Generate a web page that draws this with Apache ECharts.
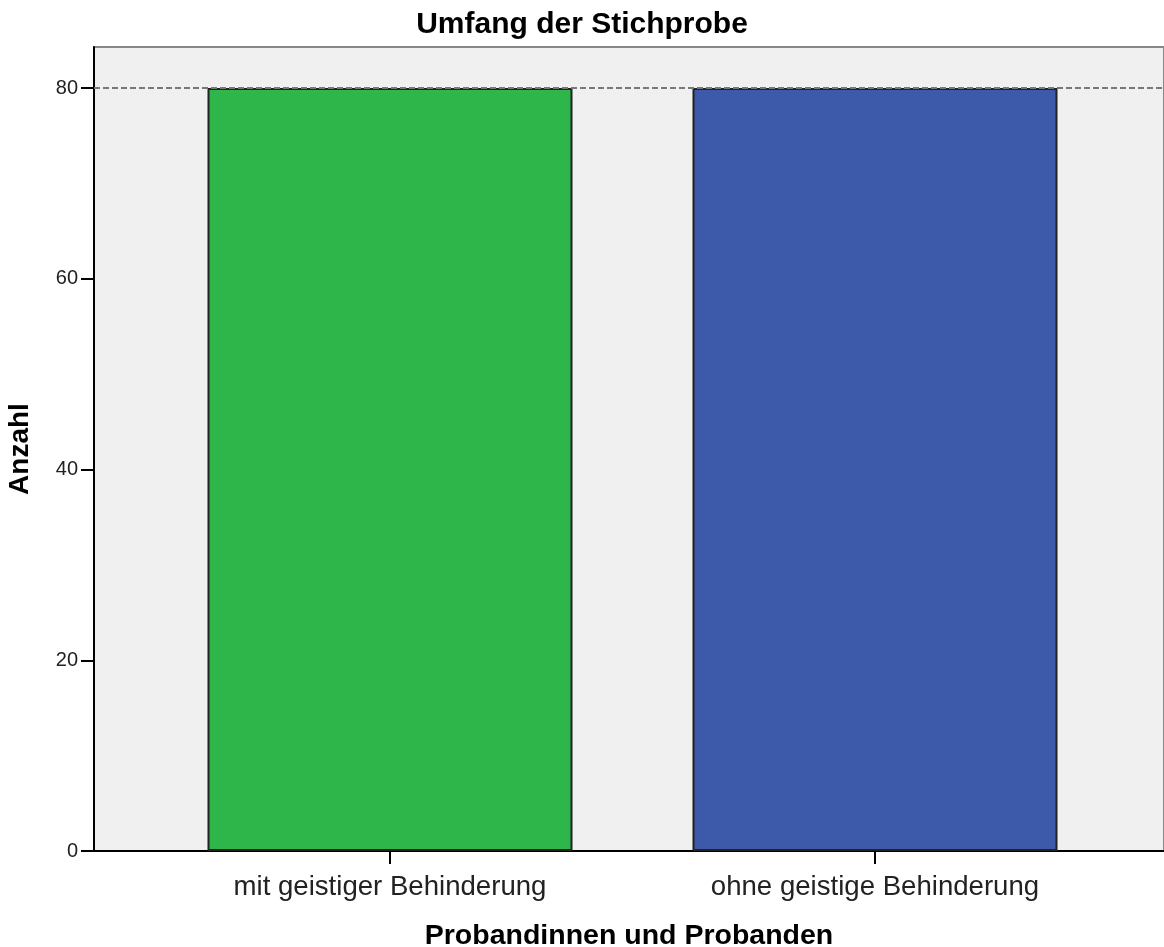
<!DOCTYPE html>
<html>
<head>
<meta charset="utf-8">
<script src="https://cdn.jsdelivr.net/npm/echarts@6/dist/echarts.min.js"></script>
<style>
  html, body { margin: 0; padding: 0; background: #fff; }
  #main { width: 1164px; height: 947px; }
</style>
</head>
<body>
<div id="main"></div>
<script>
// daten
var categories = ['mit geistiger Behinderung', 'ohne geistige Behinderung'];
var counts = [80, 80];
var barColors = ['#2fb64a', '#3c59aa'];
var yTicks = [0, 20, 40, 60, 80];
var refLine = 80;

var myChart = echarts.init(document.getElementById('main'));

var barData = categories.map(function (c, i) {
    return {
        value: [i, counts[i]],
        itemStyle: { color: barColors[i] }
    };
});

var option = {
    backgroundColor: '#fff',
    animation: false,
    title: {
        text: 'Umfang der Stichprobe',
        left: 'center',
        top: 5,
        textStyle: {
            fontFamily: 'Liberation Sans',
            fontWeight: 'bold',
            fontSize: 30,
            color: '#000'
        }
    },
    grid: {
        left: 94,
        right: 0,
        top: 47,
        bottom: 96,
        outerBoundsMode: 'none',
        containLabel: false,
        show: true,
        backgroundColor: '#f0f0f0',
        borderColor: '#888',
        borderWidth: 2
    },
    xAxis: {
        type: 'value',
        min: -0.6103,
        max: 1.5959,
        name: 'Probandinnen und Probanden',
        nameLocation: 'middle',
        nameGap: 71,
        nameTextStyle: {
            fontFamily: 'Liberation Sans',
            fontWeight: 'bold',
            fontSize: 28.5,
            color: '#000',
            verticalAlign: 'top'
        },
        splitLine: { show: false },
        axisLine: { show: true, onZero: false, lineStyle: { color: '#000', width: 2 } },
        axisTick: {
            show: true,
            length: 13,
            customValues: [0, 1],
            lineStyle: { color: '#000', width: 2 }
        },
        axisLabel: {
            customValues: [0, 1],
            margin: 22,
            fontFamily: 'Liberation Sans',
            fontSize: 27.6,
            color: '#222',
            formatter: function (v) {
                return categories[Math.round(v)];
            }
        }
    },
    yAxis: {
        type: 'value',
        min: 0,
        max: 84.3,
        interval: 20,
        name: 'Anzahl',
        nameLocation: 'middle',
        nameGap: 60,
        nameTextStyle: {
            fontFamily: 'Liberation Sans',
            fontWeight: 'bold',
            fontSize: 28,
            color: '#000'
        },
        splitLine: { show: false },
        axisLine: { show: true, onZero: false, lineStyle: { color: '#000', width: 2 } },
        axisTick: {
            show: true,
            length: 13,
            customValues: yTicks,
            lineStyle: { color: '#000', width: 2 }
        },
        axisLabel: {
            customValues: yTicks,
            margin: 16,
            fontFamily: 'Liberation Sans',
            fontSize: 20,
            color: '#222'
        }
    },
    series: [
        {
            type: 'bar',
            barWidth: 365,
            data: barData,
            itemStyle: {
                borderColor: '#222',
                borderWidth: 2
            },
            markLine: {
                silent: true,
                symbol: 'none',
                label: { show: false },
                lineStyle: { color: '#777', type: [6, 3], width: 2 },
                data: [{ yAxis: refLine }]
            }
        }
    ]
};

myChart.setOption(option);
</script>
</body>
</html>
